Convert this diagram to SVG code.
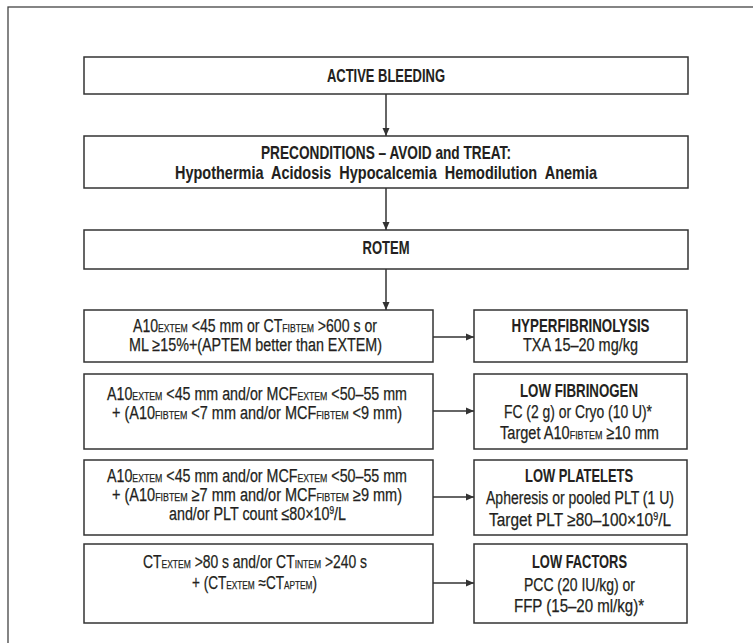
<svg xmlns="http://www.w3.org/2000/svg" width="753" height="643" viewBox="0 0 753 643">
<defs>
<style>
.box{fill:#fff;stroke:#333;stroke-width:1.5}
.frame{fill:none;stroke:#444;stroke-width:1.3}
.t{font-family:"Liberation Sans",Arial,sans-serif;font-size:18px;fill:#231f20;stroke:#231f20;stroke-width:0.25;text-anchor:middle}
.b{font-weight:bold;font-size:18.5px;stroke-width:0.1}
.s{font-size:11px}
.sup{font-size:10.5px}
.ln{fill:none;stroke:#333;stroke-width:1.5}
</style>
<marker id="ah" viewBox="0 0 8 8" markerWidth="8" markerHeight="8" refX="8" refY="4" orient="auto" markerUnits="userSpaceOnUse">
<path d="M0,0.5 L8,4 L0,7.5 z" fill="#333"/>
</marker>
</defs>
<rect width="753" height="643" fill="#fff"/>
<rect class="frame" x="8" y="7" width="800" height="700"/>

<g id="connectors">
<line class="ln" x1="386" y1="94" x2="386" y2="136" marker-end="url(#ah)"/>
<line class="ln" x1="386" y1="188" x2="386" y2="230" marker-end="url(#ah)"/>
<line class="ln" x1="386" y1="269" x2="386" y2="310" marker-end="url(#ah)"/>
<line class="ln" x1="433" y1="337" x2="474" y2="337" marker-end="url(#ah)"/>
<line class="ln" x1="433" y1="411" x2="474" y2="411" marker-end="url(#ah)"/>
<line class="ln" x1="433" y1="497" x2="474" y2="497" marker-end="url(#ah)"/>
<line class="ln" x1="433" y1="583" x2="474" y2="583" marker-end="url(#ah)"/>
</g>

<g id="active-bleeding">
<rect class="box" x="84" y="57" width="604" height="37"/>
<text class="t b" x="386" y="82" textLength="118" lengthAdjust="spacingAndGlyphs">ACTIVE BLEEDING</text>
</g>

<g id="preconditions">
<rect class="box" x="84" y="136" width="604" height="52"/>
<text class="t b" x="386" y="159" textLength="250" lengthAdjust="spacingAndGlyphs">PRECONDITIONS – AVOID and TREAT:</text>
<text class="t b" x="386" y="179" textLength="422" lengthAdjust="spacingAndGlyphs" xml:space="preserve">Hypothermia  Acidosis  Hypocalcemia  Hemodilution  Anemia</text>
</g>

<g id="rotem">
<rect class="box" x="84" y="230" width="604" height="39"/>
<text class="t b" x="386" y="254" textLength="47" lengthAdjust="spacingAndGlyphs">ROTEM</text>
</g>

<g id="crit-hyperfibrinolysis">
<rect class="box" x="84" y="310" width="349" height="52"/>
<text class="t" x="255" y="332" textLength="244" lengthAdjust="spacingAndGlyphs">A10<tspan class="s">EXTEM</tspan> &lt;45 mm or CT<tspan class="s">FIBTEM</tspan> &gt;600 s or</text>
<text class="t" x="255.5" y="351" textLength="253" lengthAdjust="spacingAndGlyphs">ML ≥15%+(APTEM better than EXTEM)</text>
</g>

<g id="crit-fibrinogen">
<rect class="box" x="84" y="374" width="349" height="75"/>
<text class="t" x="257" y="400" textLength="300" lengthAdjust="spacingAndGlyphs">A10<tspan class="s">EXTEM</tspan> &lt;45 mm and/or MCF<tspan class="s">EXTEM</tspan> &lt;50–55 mm</text>
<text class="t" x="257" y="419" textLength="290" lengthAdjust="spacingAndGlyphs">+ (A10<tspan class="s">FIBTEM</tspan> &lt;7 mm and/or MCF<tspan class="s">FIBTEM</tspan> &lt;9 mm)</text>
</g>

<g id="crit-platelets">
<rect class="box" x="84" y="460" width="349" height="75"/>
<text class="t" x="257" y="482" textLength="300" lengthAdjust="spacingAndGlyphs">A10<tspan class="s">EXTEM</tspan> &lt;45 mm and/or MCF<tspan class="s">EXTEM</tspan> &lt;50–55 mm</text>
<text class="t" x="257" y="501" textLength="290" lengthAdjust="spacingAndGlyphs">+ (A10<tspan class="s">FIBTEM</tspan> ≥7 mm and/or MCF<tspan class="s">FIBTEM</tspan> ≥9 mm)</text>
<text class="t" x="257.5" y="520" textLength="177" lengthAdjust="spacingAndGlyphs">and/or PLT count ≤80×10<tspan class="sup" dy="-6">9</tspan><tspan dy="6">/L</tspan></text>
</g>

<g id="crit-factors">
<rect class="box" x="84" y="544" width="349" height="79"/>
<text class="t" x="255" y="568" textLength="224" lengthAdjust="spacingAndGlyphs">CT<tspan class="s">EXTEM</tspan> &gt;80 s and/or CT<tspan class="s">INTEM</tspan> &gt;240 s</text>
<text class="t" x="254.5" y="589" textLength="125" lengthAdjust="spacingAndGlyphs">+ (CT<tspan class="s">EXTEM</tspan> ≈CT<tspan class="s">APTEM</tspan>)</text>
</g>

<g id="hyperfibrinolysis">
<rect class="box" x="474" y="310" width="213" height="52"/>
<text class="t b" x="580.5" y="332" textLength="138" lengthAdjust="spacingAndGlyphs">HYPERFIBRINOLYSIS</text>
<text class="t" x="580.5" y="351" textLength="115" lengthAdjust="spacingAndGlyphs">TXA 15–20 mg/kg</text>
</g>

<g id="low-fibrinogen">
<rect class="box" x="474" y="374" width="213" height="75"/>
<text class="t b" x="579" y="397" textLength="118" lengthAdjust="spacingAndGlyphs">LOW FIBRINOGEN</text>
<text class="t" x="578" y="418" textLength="148" lengthAdjust="spacingAndGlyphs">FC (2 g) or Cryo (10 U)*</text>
<text class="t" x="579.5" y="439" textLength="159" lengthAdjust="spacingAndGlyphs">Target A10<tspan class="s">FIBTEM</tspan> ≥10 mm</text>
</g>

<g id="low-platelets">
<rect class="box" x="474" y="460" width="213" height="75"/>
<text class="t b" x="579" y="482" textLength="108" lengthAdjust="spacingAndGlyphs">LOW PLATELETS</text>
<text class="t" x="580" y="504" textLength="188" lengthAdjust="spacingAndGlyphs">Apheresis or pooled PLT (1 U)</text>
<text class="t" x="580" y="526" textLength="182" lengthAdjust="spacingAndGlyphs">Target PLT ≥80–100×10<tspan class="sup" dy="-6">9</tspan><tspan dy="6">/L</tspan></text>
</g>

<g id="low-factors">
<rect class="box" x="474" y="544" width="213" height="79"/>
<text class="t b" x="579.5" y="568" textLength="95" lengthAdjust="spacingAndGlyphs">LOW FACTORS</text>
<text class="t" x="579.5" y="591" textLength="111" lengthAdjust="spacingAndGlyphs">PCC (20 IU/kg) or</text>
<text class="t" x="579" y="612" textLength="130" lengthAdjust="spacingAndGlyphs">FFP (15–20 ml/kg)*</text>
</g>
</svg>
